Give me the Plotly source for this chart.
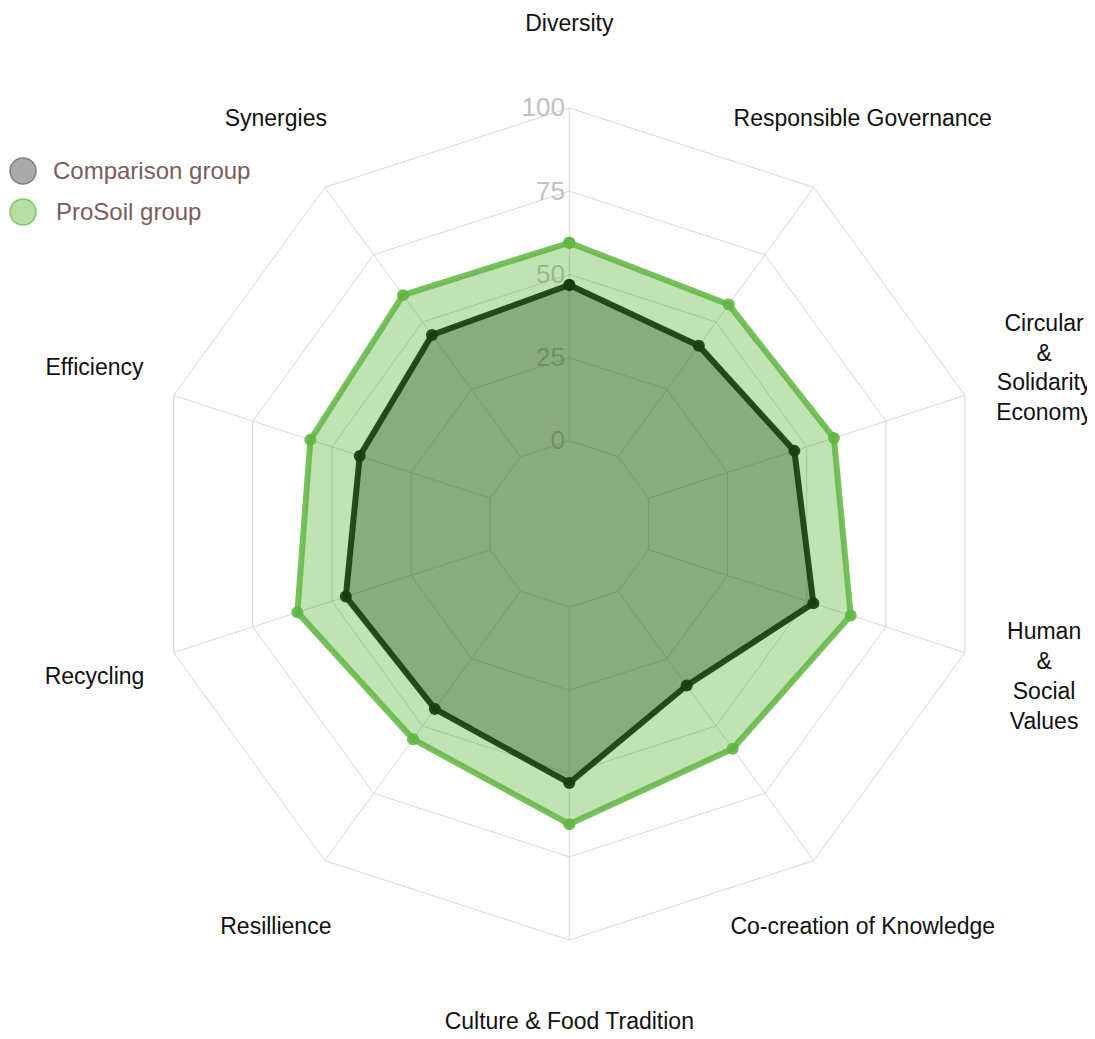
import plotly.graph_objects as go

categories = ["Diversity", "Responsible Governance", "Circular<br>&<br>Solidarity<br>Economy",
              "Human<br>&<br>Social<br>Values", "Co-creation of Knowledge", "Culture & Food Tradition",
              "Resillience", "Recycling", "Efficiency", "Synergies"]
comparison = [46.8, 41.2, 46.1, 52.1, 35.0, 52.8, 43.7, 45.6, 41.2, 45.2]
prosoil = [59.5, 56.5, 58.6, 63.9, 58.5, 65.2, 54.9, 60.9, 56.8, 60.0]
tick_vals = [0, 25, 50, 75, 100]
tick_text = ["0", "25", "50", "75", "100"]
series_names = ["Comparison group", "ProSoil group"]

FONT = "Arial, Liberation Sans, sans-serif"
W, H = 1095, 1039
GRID = "#d6d6d6"
OFF = 8  # page body margin

theta = categories + [categories[0]]

fig = go.Figure()

# spokes from the 0 ring to the outer ring
spoke_r, spoke_t = [], []
for c in categories:
    spoke_r += [tick_vals[0], tick_vals[-1], None]
    spoke_t += [c, c, c]
fig.add_trace(go.Scatterpolar(r=spoke_r, theta=spoke_t, mode="lines",
                              line=dict(color=GRID, width=1), hoverinfo="skip",
                              showlegend=False, connectgaps=False))

fig.add_trace(go.Scatterpolar(
    r=comparison + [comparison[0]], theta=theta, mode="lines+markers",
    fill="toself", fillcolor="rgba(0,0,0,0.33)",
    line=dict(color="rgba(0,0,0,0.92)", width=6),
    marker=dict(color="rgba(0,0,0,0.92)", size=12),
    name=series_names[0], showlegend=False))
fig.add_trace(go.Scatterpolar(
    r=prosoil + [prosoil[0]], theta=theta, mode="lines+markers",
    fill="toself", fillcolor="rgba(76,175,40,0.35)",
    line=dict(color="rgba(95,182,65,0.85)", width=6),
    marker=dict(color="rgba(95,182,65,0.9)", size=12),
    name=series_names[1], showlegend=False))

# category labels placed outside the outer ring
fig.add_trace(go.Scatterpolar(
    r=[125] * len(categories), theta=categories, mode="text", text=categories,
    textposition="middle center", textfont=dict(size=23, color="#111111", family=FONT),
    cliponaxis=False, hoverinfo="skip", showlegend=False))

cx, cy, R = 569.3 - OFF, 524 - OFF, 505.9
fig.update_layout(
    width=W, height=H,
    margin=dict(l=0, r=0, t=0, b=0),
    paper_bgcolor="white",
    font=dict(family=FONT),
    showlegend=False,
    polar=dict(
        domain=dict(x=[(cx - R) / W, (cx + R) / W], y=[1 - (cy + R) / H, 1 - (cy - R) / H]),
        bgcolor="rgba(0,0,0,0)",
        gridshape="linear",
        radialaxis=dict(range=[-25, 127], tickvals=tick_vals, ticktext=tick_text, angle=90,
                        side="counterclockwise", tickangle=90,
                        showticklabels=True,
                        tickfont=dict(size=26, color="#bfc1c5", family=FONT),
                        showline=False,
                        gridcolor=GRID, gridwidth=1, ticks="", layer="below traces"),
        angularaxis=dict(rotation=90, direction="clockwise", type="category",
                         categoryarray=categories, showticklabels=False, ticks="",
                         showgrid=False, showline=False, layer="below traces"),
    ),
)

# legend (drawn as shapes + text to get the large circular keys)
leg_colors = [("#a9a9a9", "#808080"), ("#b6dda3", "#80c864")]
leg_y = [171 - OFF, 212 - OFF]
leg_x_text = [51 - OFF, 54 - OFF]
for (fc, lc), yy, xt, nm in zip(leg_colors, leg_y, leg_x_text, series_names):
    fig.add_shape(type="circle", xref="paper", yref="paper",
                  x0=(23 - OFF - 13) / W, x1=(23 - OFF + 13) / W,
                  y0=1 - (yy + 13) / H, y1=1 - (yy - 13) / H,
                  fillcolor=fc, line=dict(color=lc, width=1.5))
    fig.add_annotation(text=nm, xref="paper", yref="paper", x=xt / W, y=1 - yy / H,
                       xanchor="left", yanchor="middle", showarrow=False,
                       font=dict(size=24, color="#7b5b5b", family=FONT))

fig.write_html("out.html")
